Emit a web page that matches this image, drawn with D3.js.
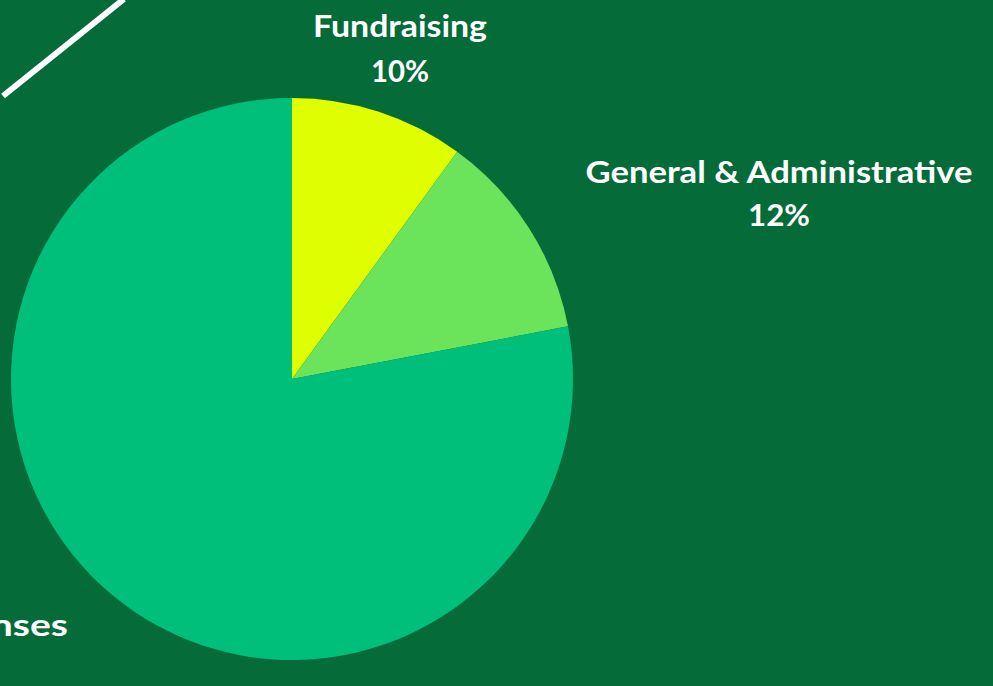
<!DOCTYPE html>
<html>
<head>
<meta charset="utf-8">
<script src="https://cdn.jsdelivr.net/npm/d3@7"></script>
<style>
  html, body { margin: 0; padding: 0; background: #046b39; overflow: hidden; }
  svg { display: block; }
  text { font-family: "Lato", "Open Sans", sans-serif; font-weight: 700; fill: #ffffff; }
</style>
</head>
<body>
<svg id="chart" width="993" height="686"></svg>
<script>
// ---- data ----
const categories = ["Fundraising", "General & Administrative", "Program Expenses"];
const values = [10, 12, 78];
const colors = ["#dfff00", "#6be35b", "#00bf7a"];

// ---- layout ----
const W = 993, H = 686;
const cx = 292, cy = 379, R = 281;
// label layout: [x, first baseline, second baseline, anchor, widthLine1, widthLine2]
const labelLayout = [
  { x: 400, y1: 37, y2: 82, anchor: "middle", w1: 174, w2: 58 },
  { x: 779, y1: 183, y2: 226, anchor: "middle", w1: 387, w2: 62 },
  { x: 68, y1: 636, y2: 680, anchor: "end", w1: 320, w2: 60 }
];

const svg = d3.select("#chart");
svg.append("rect").attr("width", W).attr("height", H).attr("fill", "#046b39");

// decorative diagonal line
svg.append("line")
  .attr("x1", 3).attr("y1", 96).attr("x2", 124).attr("y2", -1)
  .attr("stroke", "#ffffff").attr("stroke-width", 6);

const pie = d3.pie().sort(null).value(d => d)(values);
const arc = d3.arc().innerRadius(0).outerRadius(R);

const g = svg.append("g").attr("transform", `translate(${cx},${cy})`);
g.selectAll("path").data(pie).join("path")
  .attr("d", arc)
  .attr("fill", (d, i) => colors[i]);

const total = d3.sum(values);
const fmt = v => Math.round(v / total * 100) + "%";

categories.forEach((c, i) => {
  const L = labelLayout[i];
  svg.append("text").attr("text-anchor", L.anchor).style("font-size", "31px")
    .attr("x", L.x).attr("y", L.y1).text(c)
    .attr("textLength", L.w1).attr("lengthAdjust", "spacingAndGlyphs");
  const px = L.anchor === "end" ? L.x - L.w1 / 2 : L.x;
  svg.append("text").attr("text-anchor", "middle").style("font-size", "31px")
    .attr("x", px).attr("y", L.y2).text(fmt(values[i]))
    .attr("textLength", L.w2).attr("lengthAdjust", "spacingAndGlyphs");
});
</script>
</body>
</html>
